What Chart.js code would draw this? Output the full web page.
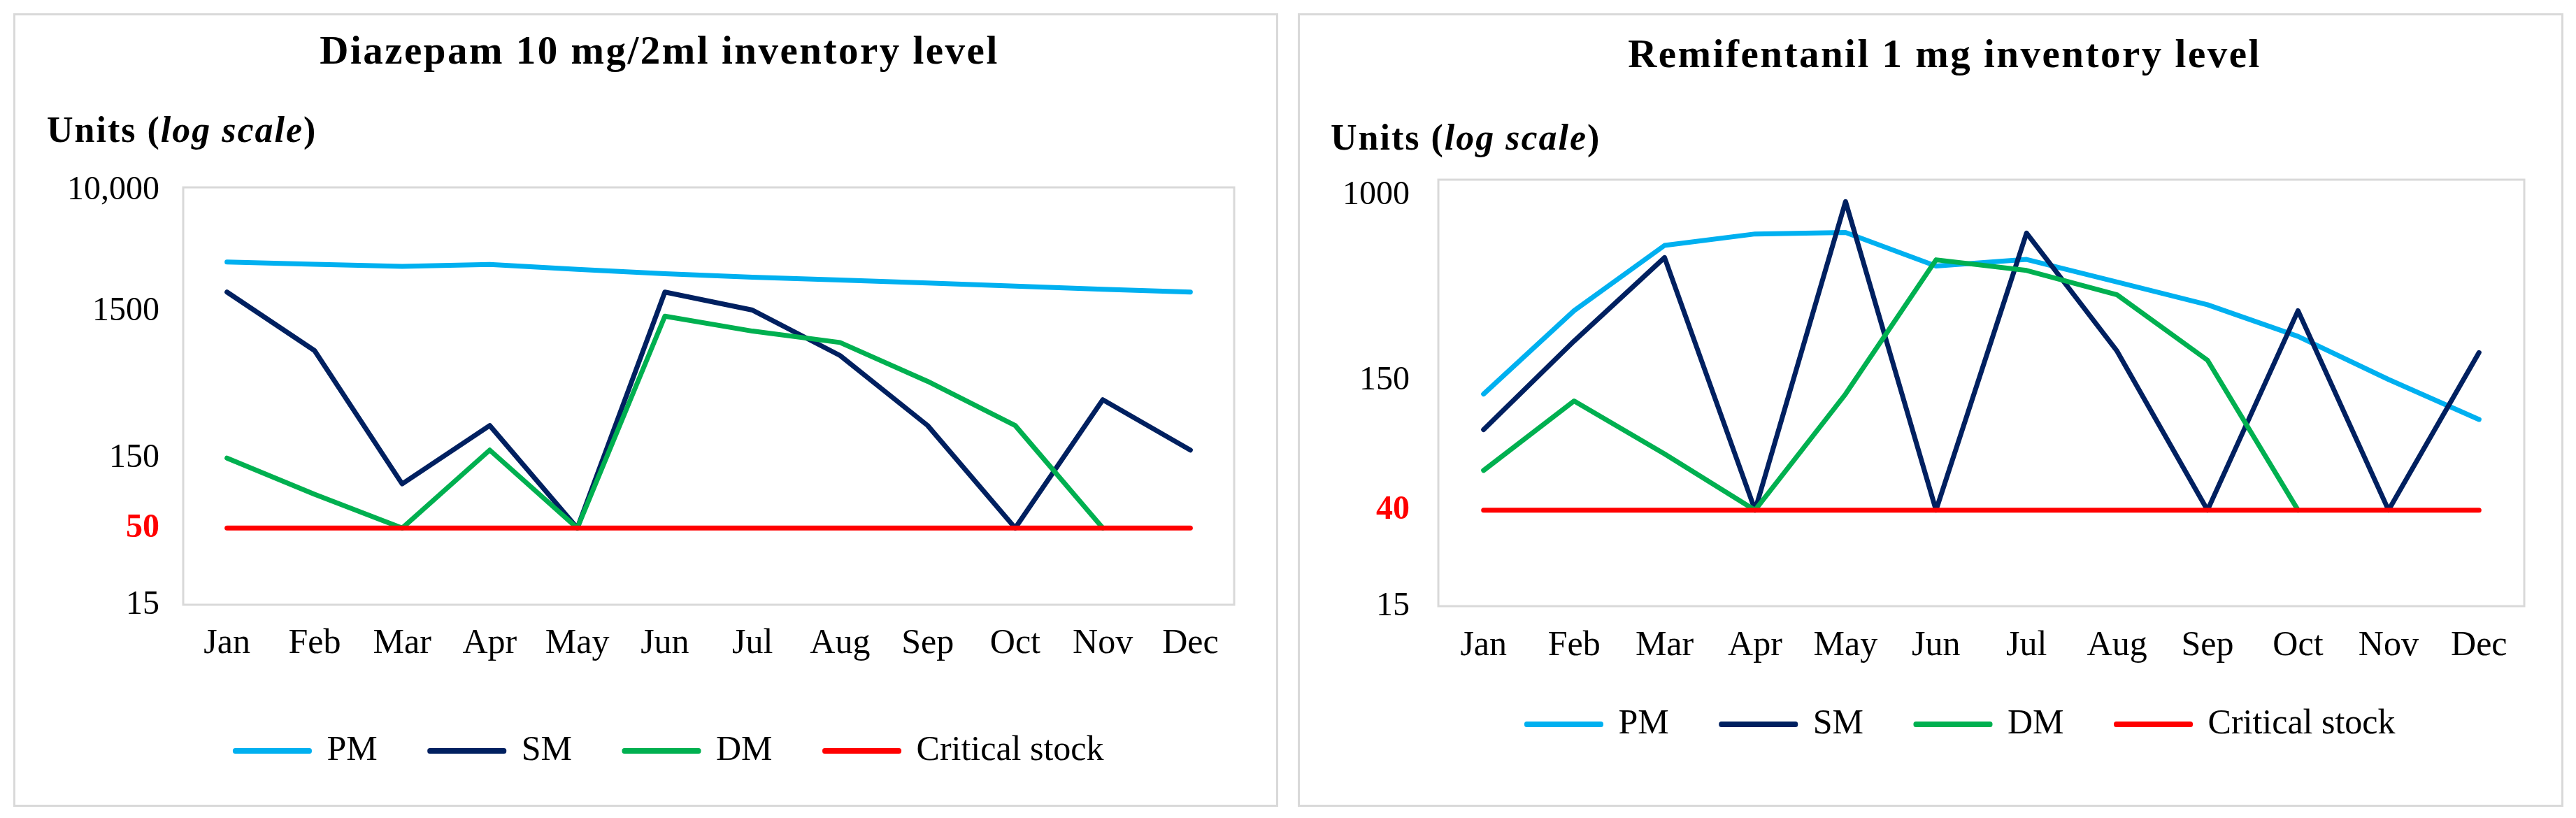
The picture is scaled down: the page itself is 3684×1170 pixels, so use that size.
<!DOCTYPE html>
<html>
<head>
<meta charset="utf-8">
<script src="https://cdn.jsdelivr.net/npm/chart.js@4.4.1/dist/chart.umd.min.js"></script>
<style>
  html, body { margin: 0; padding: 0; background: #fff; }
  body { width: 3684px; height: 1170px; position: relative; overflow: hidden; font-family: 'Liberation Serif', serif; color: #000; }
  .panel { position: absolute; top: 19px; height: 1135px; box-sizing: border-box; border: 3px solid #d9d9d9; }
  #left { left: 19px; width: 1809px; }
  #right { left: 1856px; width: 1810px; }
  .holder { position: absolute; left: 0; top: 0; right: 0; bottom: 0; }
  .title { position: absolute; left: 0; width: 100%; box-sizing: border-box; text-align: center;
           font-weight: bold; font-size: 57px; line-height: 57px; letter-spacing: 2.5px; white-space: nowrap; }
  .units { position: absolute; font-weight: bold; font-size: 52px; line-height: 52px; letter-spacing: 2px; white-space: nowrap; }
</style>
</head>
<body>
<div class="panel" id="left">
  <div class="holder"><canvas id="diazepam"></canvas></div>
  <div class="title" style="top:21px; padding-left:39px">Diazepam 10 mg/2ml inventory level</div>
  <div class="units" style="left:45px; top:138px">Units (<i>log scale</i>)</div>
</div>
<div class="panel" id="right">
  <div class="holder"><canvas id="remifentanil"></canvas></div>
  <div class="title" style="top:26px; padding-left:40px">Remifentanil 1 mg inventory level</div>
  <div class="units" style="left:44px; top:149px">Units (<i>log scale</i>)</div>
</div>
<script>
const months = ['Jan', 'Feb', 'Mar', 'Apr', 'May', 'Jun', 'Jul', 'Aug', 'Sep', 'Oct', 'Nov', 'Dec'];

// Diazepam 10 mg/2ml
const diazepamPM = [3250, 3140, 3040, 3130, 2900, 2710, 2560, 2450, 2340, 2230, 2120, 2030];
const diazepamSM = [2030, 810, 100, 250, 50, 2030, 1530, 750, 250, 50, 375, 170];
const diazepamDM = [150, 85, 50, 170, 50, 1390, 1100, 920, 500, 250, 50, null];
const diazepamCritical = [50, 50, 50, 50, 50, 50, 50, 50, 50, 50, 50, 50];
const diazepamTicks = [15, 50, 150, 1500, 10000];

// Remifentanil 1 mg
const remiPM = [131, 307, 598, 672, 682, 484, 518, 411, 326, 236, 152, 101];
const remiSM = [91, 225, 528, 40, 936, 40, 678, 203, 40, 307, 40, 200];
const remiDM = [60, 122, 71, 40, 131, 516, 463, 361, 185, 40, null, null];
const remiCritical = [40, 40, 40, 40, 40, 40, 40, 40, 40, 40, 40, 40];
const remiTicks = [15, 40, 150, 1000];

const colours = { PM: '#00b0f0', SM: '#002060', DM: '#00b050', critical: '#ff0000' };

Chart.defaults.font.family = "'Liberation Serif', serif";
Chart.defaults.color = '#000';

// light grey frame round the plot area
const plotFrame = {
  id: 'plotFrame',
  beforeDatasetsDraw(chart) {
    const a = chart.chartArea;
    const ctx = chart.ctx;
    ctx.save();
    ctx.strokeStyle = '#d9d9d9';
    ctx.lineWidth = 3;
    ctx.strokeRect(a.left, a.top, a.right - a.left, a.bottom - a.top);
    ctx.restore();
  }
};

// move the legend box a little after layout (it sits under the plot, not the canvas centre)
const legendNudge = {
  id: 'legendNudge',
  afterLayout(chart, args, opts) {
    const l = chart.legend;
    if (!l) return;
    l.left += opts.dx; l.right += opts.dx;
    l.top += opts.dy; l.bottom += opts.dy;
  }
};

function series(label, data, colour, order) {
  return {
    label, data, order,
    borderColor: colour,
    backgroundColor: colour,
    borderWidth: 7,
    pointRadius: 0,
    pointHoverRadius: 0,
    tension: 0,
    borderCapStyle: 'round',
    borderJoinStyle: 'round',
    spanGaps: false
  };
}

function makeChart(id, o) {
  return new Chart(document.getElementById(id), {
    type: 'line',
    data: {
      labels: months,
      datasets: [
        series('PM', o.pm, colours.PM, 3),
        series('SM', o.sm, colours.SM, 2),
        series('DM', o.dm, colours.DM, 1),
        series('Critical stock', o.critical, colours.critical, 0)
      ]
    },
    options: {
      responsive: true,
      maintainAspectRatio: false,
      animation: false,
      events: [],
      layout: { padding: o.padding },
      plugins: {
        title: { display: false },
        tooltip: { enabled: false },
        legendNudge: o.nudge,
        legend: {
          position: 'bottom',
          labels: {
            boxWidth: 106,
            boxHeight: 1,
            padding: 75,
            color: '#000',
            font: { size: 50 },
            sort: (a, b) => a.datasetIndex - b.datasetIndex
          }
        }
      },
      scales: {
        x: {
          offset: true,
          grid: { display: false, drawTicks: false },
          border: { display: false },
          ticks: { padding: o.xPad, color: '#000', font: { size: 50 }, maxRotation: 0, autoSkip: false },
          afterFit: s => { s.height = o.xHeight; }
        },
        y: {
          type: 'logarithmic',
          min: o.min,
          max: o.max,
          grid: { display: false, drawTicks: false },
          border: { display: false },
          afterBuildTicks: s => { s.ticks = o.ticks.map(v => ({ value: v })); },
          afterFit: s => { s.width = o.yWidth; },
          ticks: {
            padding: o.yPad,
            callback: v => (v >= 10000 ? v.toLocaleString('en-US') : String(v)),
            color: c => (c.tick && c.tick.value === o.critical[0] ? colours.critical : '#000'),
            font: c => ({ size: 48, weight: c.tick && c.tick.value === o.critical[0] ? 'bold' : 'normal' })
          }
        }
      }
    },
    plugins: [plotFrame, legendNudge]
  });
}

makeChart('diazepam', {
  pm: diazepamPM, sm: diazepamSM, dm: diazepamDM, critical: diazepamCritical,
  ticks: diazepamTicks, min: 15, max: 10500,
  padding: { top: 246, left: 0, right: 60, bottom: 42 },
  yWidth: 240, yPad: 34, xHeight: 109, xPad: 26,
  nudge: { dx: 64, dy: 0 }
});

makeChart('remifentanil', {
  pm: remiPM, sm: remiSM, dm: remiDM, critical: remiCritical,
  ticks: remiTicks, min: 15, max: 1170,
  padding: { top: 235, left: 0, right: 53, bottom: 49 },
  yWidth: 198, yPad: 41, xHeight: 100, xPad: 27,
  nudge: { dx: 70, dy: -31 }
});
</script>
</body>
</html>
